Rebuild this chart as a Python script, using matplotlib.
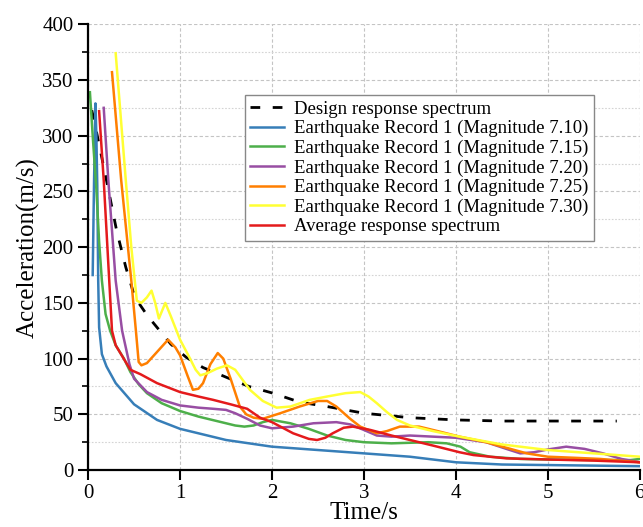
import matplotlib
matplotlib.use("Agg")
import matplotlib.pyplot as plt
from matplotlib.ticker import MultipleLocator

plt.rcParams['font.family'] = ['Liberation Serif', 'DejaVu Serif']

# design response spectrum
t_design = [0.04, 0.1, 0.2, 0.31, 0.41, 0.49, 0.55, 0.65, 0.78, 0.9, 1.07, 1.25, 1.54, 1.75, 2.01,
            2.3, 2.6, 3.0, 3.5, 4.0, 4.5, 5.0, 5.75]
a_design = [323, 300, 260, 215, 182, 160, 150, 138, 125, 113, 101, 92, 82, 75, 69,
            61, 57, 51, 47, 45, 44, 44, 44]

# magnitude 7.10
t_710 = [0.05, 0.065, 0.08, 0.09, 0.1, 0.11, 0.12, 0.15, 0.2, 0.3, 0.5, 0.75, 1.0, 1.5, 2.0,
         2.5, 3.0, 3.5, 4.0, 4.5, 5.0, 5.5, 6.0]
a_710 = [175, 260, 329, 300, 255, 170, 128, 104, 93, 78, 59, 45, 37, 27, 21,
         18, 15, 12, 7, 5, 4.5, 4, 3.5]

# magnitude 7.15
t_715 = [0.02, 0.05, 0.09, 0.12, 0.15, 0.19, 0.24, 0.3, 0.39, 0.46, 0.55, 0.64, 0.8, 1.0, 1.2,
         1.4, 1.6, 1.7, 1.8, 1.9, 2.0, 2.2, 2.4, 2.6, 2.8, 3.0, 3.3, 3.7, 3.9, 4.05,
         4.15, 4.37, 4.7, 5.0, 5.5, 5.9, 6.0]
a_715 = [339, 300, 252, 205, 170, 140, 125, 112, 100, 88, 77, 69, 60, 53, 48,
         44, 40, 39, 40, 43, 45, 42, 37, 31, 27, 25, 24, 25, 24, 21,
         16, 12, 10, 9.5, 9, 9, 10]

# magnitude 7.20
t_720 = [0.17, 0.22, 0.3, 0.37, 0.45, 0.5, 0.64, 0.8, 1.0, 1.2, 1.36, 1.5, 1.6, 1.73, 1.87,
         2.0, 2.23, 2.45, 2.7, 2.85, 3.0, 3.14, 3.3, 3.5, 3.75, 4.0, 4.33, 4.55, 4.7, 4.85,
         5.0, 5.2, 5.4, 5.6, 5.8, 6.0]
a_720 = [325, 260, 170, 125, 95, 82, 70, 63, 58, 56, 55, 54, 51, 46, 40,
         37.5, 39, 42, 43, 41, 36, 31, 30, 31, 30, 29, 25, 19, 15, 16,
         18.5, 21, 19, 15, 10, 7]

# magnitude 7.25
t_725 = [0.26, 0.36, 0.47, 0.52, 0.55, 0.58, 0.64, 0.75, 0.87, 0.95, 1.0, 1.08, 1.14, 1.2, 1.25,
         1.33, 1.41, 1.47, 1.55, 1.65, 1.72, 1.8, 1.9, 2.09, 2.3, 2.5, 2.6, 2.7, 2.85, 2.96,
         3.14, 3.25, 3.39, 3.6, 3.8, 4.04, 4.33, 4.55, 4.77, 5.0, 5.3, 5.57, 6.0]
a_725 = [357, 260, 170, 125, 97, 94, 96, 106, 117, 110, 103, 85, 72, 73, 78,
         95, 105, 100, 82, 57, 50, 47, 46, 51, 57, 62, 62, 57, 46, 39,
         33, 35, 39, 39, 35, 30, 25, 20, 15, 12, 11, 10, 7]

# magnitude 7.30
t_730 = [0.3, 0.41, 0.47, 0.53, 0.58, 0.64, 0.69, 0.73, 0.77, 0.8, 0.84, 0.9, 1.0, 1.09, 1.17,
         1.22, 1.3, 1.4, 1.51, 1.6, 1.76, 1.9, 2.05, 2.2, 2.41, 2.6, 2.8, 2.96, 3.05, 3.14,
         3.25, 3.36, 3.5, 3.75, 4.04, 4.5, 5.0, 5.5, 6.0]
a_730 = [374, 260, 200, 152, 150, 155, 161, 150, 136, 142, 150, 138, 117, 103, 90,
         85, 87, 91, 94, 90, 72, 62, 56, 57, 63, 66, 69, 70, 66, 60,
         52, 45, 40, 35, 30, 23, 18, 15, 12]

# average
t_avg = [0.12, 0.17, 0.23, 0.26, 0.3, 0.38, 0.46, 0.57, 0.75, 1.0, 1.2, 1.36, 1.55, 1.73, 1.87,
         2.0, 2.23, 2.4, 2.49, 2.58, 2.66, 2.78, 2.88, 3.07, 3.3, 3.5, 3.75, 4.04, 4.19, 4.55,
         5.0, 5.5, 6.0]
a_avg = [322, 260, 170, 125, 112, 101, 90, 86, 78, 70, 66, 63, 59, 55, 47,
         43, 33, 28, 27, 29, 33, 38, 39, 36, 31, 27, 22, 16, 13.5, 10.5,
         9.5, 8.5, 7]

fig = plt.figure(figsize=(6.43, 5.27), dpi=100)
ax = fig.add_axes([0.137, 0.108, 0.858, 0.846])

lw = 1.8
ax.plot(t_design, a_design, color='black', lw=2.0, dashes=(3.5, 4.5), label='Design response spectrum')
ax.plot(t_710, a_710, color='#377eb8', lw=lw, label='Earthquake Record 1 (Magnitude 7.10)')
ax.plot(t_715, a_715, color='#4daf4a', lw=lw, label='Earthquake Record 1 (Magnitude 7.15)')
ax.plot(t_720, a_720, color='#984ea3', lw=lw, label='Earthquake Record 1 (Magnitude 7.20)')
ax.plot(t_725, a_725, color='#ff7f00', lw=lw, label='Earthquake Record 1 (Magnitude 7.25)')
ax.plot(t_730, a_730, color='#ffff33', lw=lw, label='Earthquake Record 1 (Magnitude 7.30)')
ax.plot(t_avg, a_avg, color='#e41a1c', lw=lw, label='Average response spectrum')

ax.set_xlim(0, 6)
ax.set_ylim(0, 400)
ax.xaxis.set_major_locator(MultipleLocator(1))
ax.yaxis.set_major_locator(MultipleLocator(50))
ax.yaxis.set_minor_locator(MultipleLocator(25))

ax.grid(which='major', color='#c4c4c4', linestyle=(0, (3, 2)), lw=0.8)
ax.grid(which='minor', axis='y', color='#d4d4d4', linestyle=(0, (1.5, 1.5)), lw=0.8)
ax.set_axisbelow(True)

for s in ['top', 'right']:
    ax.spines[s].set_visible(False)
for s in ['left', 'bottom']:
    ax.spines[s].set_linewidth(1.6)

ax.tick_params(which='major', direction='out', length=7, width=1.5, labelsize=15)
ax.tick_params(which='minor', direction='out', length=4, width=1.2)
ax.tick_params(axis='x', which='minor', length=0)
ax.tick_params(axis='x', pad=3)

ax.set_xlabel('Time/s', fontsize=18, labelpad=-1)
ax.set_ylabel('Acceleration(m/s)', fontsize=18, labelpad=2)

leg = ax.legend(loc='upper left', bbox_to_anchor=(0.284, 0.841), fontsize=13.5,
                frameon=True, fancybox=False, framealpha=1, edgecolor='#888888',
                handlelength=1.8, labelspacing=0.12, borderpad=0.3, handletextpad=0.5,
                borderaxespad=0)
leg.get_frame().set_linewidth(1.0)

fig.savefig('out.png', dpi=100)
